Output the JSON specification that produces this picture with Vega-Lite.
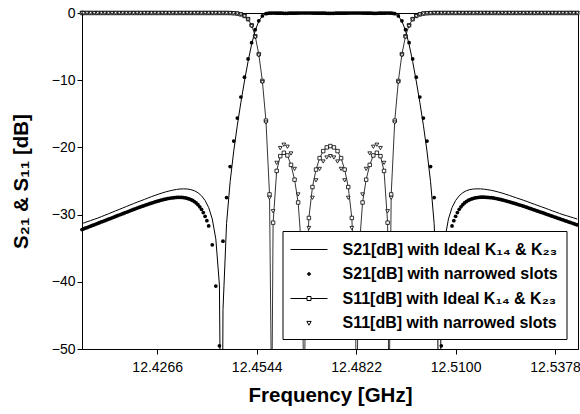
{
  "$schema": "https://vega.github.io/schema/vega-lite/v6.json",
  "width": 496,
  "height": 336,
  "autosize": {"type": "none"},
  "padding": {"left": 82, "top": 13, "right": 2, "bottom": 65},
  "background": "white",
  "config": {
    "view": {"stroke": "black", "strokeWidth": 1},
    "font": "Liberation Sans",
    "mark": {"invalid": "filter"},
    "axis": {"grid": false, "domainColor": "black", "tickColor": "black", "labelColor": "black", "titleColor": "black", "labelFont": "Liberation Sans", "labelFontSize": 14, "tickSize": 5, "titleFont": "Liberation Sans", "titleFontSize": 20.5, "titleFontWeight": "bold"}
  },
  "data": {"values": [
    {"f":12.4056,"a":-31.35,"b":-32.22,"c":0,"d":0},
    {"f":12.406,"a":-31.27,"b":-32.14,"c":0,"d":0},
    {"f":12.407,"a":-31.07,"b":-31.93,"c":0,"d":0},
    {"f":12.408,"a":-30.89,"b":-31.72,"c":0,"d":0},
    {"f":12.409,"a":-30.70,"b":-31.52,"c":0,"d":0},
    {"f":12.410,"a":-30.52,"b":-31.31,"c":0,"d":0},
    {"f":12.411,"a":-30.31,"b":-31.10,"c":0,"d":0},
    {"f":12.412,"a":-30.09,"b":-30.90,"c":0,"d":0},
    {"f":12.413,"a":-29.88,"b":-30.69,"c":0,"d":0},
    {"f":12.414,"a":-29.66,"b":-30.48,"c":0,"d":0},
    {"f":12.415,"a":-29.44,"b":-30.27,"c":0,"d":0},
    {"f":12.416,"a":-29.23,"b":-30.06,"c":0,"d":0},
    {"f":12.417,"a":-29.01,"b":-29.86,"c":0,"d":0},
    {"f":12.418,"a":-28.80,"b":-29.65,"c":0,"d":0},
    {"f":12.419,"a":-28.58,"b":-29.44,"c":0,"d":0},
    {"f":12.420,"a":-28.36,"b":-29.24,"c":0,"d":0},
    {"f":12.421,"a":-28.15,"b":-29.03,"c":0,"d":0},
    {"f":12.422,"a":-27.95,"b":-28.84,"c":0,"d":0},
    {"f":12.423,"a":-27.75,"b":-28.65,"c":0,"d":0},
    {"f":12.424,"a":-27.54,"b":-28.47,"c":0,"d":0},
    {"f":12.425,"a":-27.33,"b":-28.28,"c":0,"d":0},
    {"f":12.426,"a":-27.14,"b":-28.12,"c":0,"d":0},
    {"f":12.427,"a":-26.95,"b":-27.96,"c":0,"d":0},
    {"f":12.428,"a":-26.78,"b":-27.81,"c":0,"d":0},
    {"f":12.429,"a":-26.62,"b":-27.68,"c":0,"d":0},
    {"f":12.430,"a":-26.48,"b":-27.57,"c":0,"d":0},
    {"f":12.431,"a":-26.36,"b":-27.50,"c":0,"d":0},
    {"f":12.432,"a":-26.26,"b":-27.44,"c":0,"d":0},
    {"f":12.433,"a":-26.19,"b":-27.43,"c":0,"d":0},
    {"f":12.434,"a":-26.17,"b":-27.46,"c":0,"d":0},
    {"f":12.435,"a":-26.19,"b":-27.57,"c":0,"d":0},
    {"f":12.436,"a":-26.28,"b":-27.76,"c":0,"d":0},
    {"f":12.437,"a":-26.45,"b":-28.06,"c":0,"d":0},
    {"f":12.438,"a":-26.74,"b":-28.52,"c":0,"d":0},
    {"f":12.439,"a":-27.20,"b":-29.21,"c":0,"d":0},
    {"f":12.440,"a":-27.90,"b":-30.25,"c":0,"d":0},
    {"f":12.441,"a":-28.95,"b":-31.69,"c":0,"d":0},
    {"f":12.442,"a":-30.65,"b":-34.50,"c":0,"d":0},
    {"f":12.443,"a":-33.64,"b":-40.63,"c":0,"d":0},
    {"f":12.444,"a":-40.48,"b":-49.53,"c":0,"d":0},
    {"f":12.44464,"a":-80},
    {"f":12.445,"a":-44.14,"b":-33.95,"c":0,"d":0},
    {"f":12.446,"a":-31.30,"b":-27.47,"c":0,"d":0},
    {"f":12.447,"a":-25.10,"b":-22.85,"c":-0.01,"d":-0.02},
    {"f":12.448,"a":-20.55,"b":-19.05,"c":-0.04,"d":-0.04},
    {"f":12.449,"a":-16.72,"b":-15.64,"c":-0.09,"d":-0.1},
    {"f":12.450,"a":-13.29,"b":-12.50,"c":-0.21,"d":-0.23},
    {"f":12.451,"a":-10.13,"b":-9.56,"c":-0.44,"d":-0.48},
    {"f":12.452,"a":-7.22,"b":-6.83,"c":-0.91,"d":-0.98},
    {"f":12.453,"a":-4.66,"b":-4.42,"c":-1.82,"d":-1.95},
    {"f":12.454,"a":-2.61,"b":-2.49,"c":-3.45,"d":-3.6},
    {"f":12.455,"a":-1.22,"b":-1.17,"c":-6.12,"d":-6.3},
    {"f":12.456,"a":-0.44,"b":-0.43,"c":-10.12,"d":-10.3},
    {"f":12.457,"a":-0.11,"b":-0.11,"c":-16.02,"d":-16.3},
    {"f":12.458,"a":-0.01,"b":-0.01,"c":-27.0,"d":-27.5},
    {"f":12.45862,"c":-60},
    {"f":12.459,"a":0,"b":0,"c":-31.2,"d":-29.5},
    {"f":12.460,"a":-0.02,"b":-0.02,"c":-23.5,"d":-22.3},
    {"f":12.461,"a":-0.04,"b":-0.03,"c":-21.3,"d":-20.1},
    {"f":12.462,"a":-0.05,"b":-0.04,"c":-20.8,"d":-19.6},
    {"f":12.463,"a":-0.04,"b":-0.04,"c":-21.2,"d":-19.9},
    {"f":12.464,"a":-0.03,"b":-0.03,"c":-22.6,"d":-20.9},
    {"f":12.465,"a":-0.02,"b":-0.02,"c":-24.8,"d":-23.2},
    {"f":12.466,"a":-0.01,"b":-0.01,"c":-28.2,"d":-27.0},
    {"f":12.467,"a":0,"b":0,"c":-35.5,"d":-34.5},
    {"f":12.46771,"c":-60},
    {"f":12.468,"a":0,"b":0,"c":-43.0,"d":-42.0},
    {"f":12.469,"a":0,"b":0,"c":-30.5,"d":-32.0},
    {"f":12.470,"a":-0.01,"b":-0.01,"c":-25.9,"d":-27.5},
    {"f":12.471,"a":-0.02,"b":-0.02,"c":-23.3,"d":-24.9},
    {"f":12.472,"a":-0.03,"b":-0.03,"c":-21.6,"d":-23.2},
    {"f":12.473,"a":-0.04,"b":-0.03,"c":-20.55,"d":-22.1},
    {"f":12.474,"a":-0.04,"b":-0.04,"c":-20.0,"d":-21.5},
    {"f":12.475,"a":-0.05,"b":-0.04,"c":-19.8,"d":-21.3},
    {"f":12.476,"a":-0.04,"b":-0.04,"c":-20.0,"d":-21.5},
    {"f":12.477,"a":-0.04,"b":-0.03,"c":-20.55,"d":-22.1},
    {"f":12.478,"a":-0.03,"b":-0.03,"c":-21.6,"d":-23.2},
    {"f":12.479,"a":-0.02,"b":-0.02,"c":-23.3,"d":-24.9},
    {"f":12.480,"a":-0.01,"b":-0.01,"c":-25.9,"d":-27.5},
    {"f":12.481,"a":0,"b":0,"c":-30.5,"d":-32.0},
    {"f":12.482,"a":0,"b":0,"c":-43.0,"d":-42.0},
    {"f":12.48229,"c":-60},
    {"f":12.483,"a":0,"b":0,"c":-35.5,"d":-34.5},
    {"f":12.484,"a":-0.01,"b":-0.01,"c":-28.2,"d":-27.0},
    {"f":12.485,"a":-0.02,"b":-0.02,"c":-24.8,"d":-23.2},
    {"f":12.486,"a":-0.03,"b":-0.03,"c":-22.6,"d":-20.9},
    {"f":12.487,"a":-0.04,"b":-0.04,"c":-21.2,"d":-19.9},
    {"f":12.488,"a":-0.05,"b":-0.04,"c":-20.8,"d":-19.6},
    {"f":12.489,"a":-0.04,"b":-0.03,"c":-21.3,"d":-20.1},
    {"f":12.490,"a":-0.02,"b":-0.02,"c":-23.5,"d":-22.3},
    {"f":12.491,"a":0,"b":0,"c":-31.2,"d":-29.5},
    {"f":12.49138,"c":-60},
    {"f":12.492,"a":-0.01,"b":-0.01,"c":-27.0,"d":-27.5},
    {"f":12.493,"a":-0.11,"b":-0.11,"c":-16.02,"d":-16.3},
    {"f":12.494,"a":-0.44,"b":-0.43,"c":-10.12,"d":-10.3},
    {"f":12.495,"a":-1.22,"b":-1.17,"c":-6.12,"d":-6.3},
    {"f":12.496,"a":-2.61,"b":-2.49,"c":-3.45,"d":-3.6},
    {"f":12.497,"a":-4.66,"b":-4.42,"c":-1.82,"d":-1.95},
    {"f":12.498,"a":-7.22,"b":-6.83,"c":-0.91,"d":-0.98},
    {"f":12.499,"a":-10.13,"b":-9.56,"c":-0.44,"d":-0.48},
    {"f":12.500,"a":-13.29,"b":-12.50,"c":-0.21,"d":-0.23},
    {"f":12.501,"a":-16.72,"b":-15.64,"c":-0.09,"d":-0.1},
    {"f":12.502,"a":-20.55,"b":-19.05,"c":-0.04,"d":-0.04},
    {"f":12.503,"a":-25.10,"b":-22.85,"c":-0.01,"d":-0.02},
    {"f":12.504,"a":-31.30,"b":-27.47,"c":0,"d":0},
    {"f":12.505,"a":-44.14,"b":-33.95,"c":0,"d":0},
    {"f":12.50536,"a":-80},
    {"f":12.506,"a":-40.48,"b":-49.53,"c":0,"d":0},
    {"f":12.507,"a":-33.64,"b":-40.63,"c":0,"d":0},
    {"f":12.508,"a":-30.65,"b":-34.50,"c":0,"d":0},
    {"f":12.509,"a":-28.95,"b":-31.69,"c":0,"d":0},
    {"f":12.510,"a":-27.90,"b":-30.25,"c":0,"d":0},
    {"f":12.511,"a":-27.20,"b":-29.21,"c":0,"d":0},
    {"f":12.512,"a":-26.74,"b":-28.52,"c":0,"d":0},
    {"f":12.513,"a":-26.45,"b":-28.06,"c":0,"d":0},
    {"f":12.514,"a":-26.28,"b":-27.76,"c":0,"d":0},
    {"f":12.515,"a":-26.19,"b":-27.57,"c":0,"d":0},
    {"f":12.516,"a":-26.17,"b":-27.46,"c":0,"d":0},
    {"f":12.517,"a":-26.17,"b":-27.41,"c":0,"d":0},
    {"f":12.518,"a":-26.22,"b":-27.40,"c":0,"d":0},
    {"f":12.519,"a":-26.30,"b":-27.44,"c":0,"d":0},
    {"f":12.520,"a":-26.39,"b":-27.48,"c":0,"d":0},
    {"f":12.521,"a":-26.51,"b":-27.57,"c":0,"d":0},
    {"f":12.522,"a":-26.65,"b":-27.68,"c":0,"d":0},
    {"f":12.523,"a":-26.80,"b":-27.81,"c":0,"d":0},
    {"f":12.524,"a":-26.97,"b":-27.95,"c":0,"d":0},
    {"f":12.525,"a":-27.14,"b":-28.09,"c":0,"d":0},
    {"f":12.526,"a":-27.33,"b":-28.26,"c":0,"d":0},
    {"f":12.527,"a":-27.51,"b":-28.41,"c":0,"d":0},
    {"f":12.528,"a":-27.69,"b":-28.58,"c":0,"d":0},
    {"f":12.529,"a":-27.87,"b":-28.75,"c":0,"d":0},
    {"f":12.530,"a":-28.06,"b":-28.94,"c":0,"d":0},
    {"f":12.531,"a":-28.26,"b":-29.12,"c":0,"d":0},
    {"f":12.532,"a":-28.46,"b":-29.31,"c":0,"d":0},
    {"f":12.533,"a":-28.65,"b":-29.50,"c":0,"d":0},
    {"f":12.534,"a":-28.84,"b":-29.67,"c":0,"d":0},
    {"f":12.535,"a":-29.03,"b":-29.86,"c":0,"d":0},
    {"f":12.536,"a":-29.23,"b":-30.05,"c":0,"d":0},
    {"f":12.537,"a":-29.43,"b":-30.24,"c":0,"d":0},
    {"f":12.538,"a":-29.62,"b":-30.43,"c":0,"d":0},
    {"f":12.539,"a":-29.82,"b":-30.61,"c":0,"d":0},
    {"f":12.540,"a":-30.01,"b":-30.80,"c":0,"d":0},
    {"f":12.541,"a":-30.16,"b":-30.98,"c":0,"d":0},
    {"f":12.542,"a":-30.33,"b":-31.16,"c":0,"d":0},
    {"f":12.543,"a":-30.49,"b":-31.35,"c":0,"d":0},
    {"f":12.544,"a":-30.67,"b":-31.54,"c":0,"d":0},
    {"f":12.4065,"b":-32.03},
    {"f":12.4075,"b":-31.82},
    {"f":12.4085,"b":-31.62},
    {"f":12.4095,"b":-31.41},
    {"f":12.4105,"b":-31.21},
    {"f":12.4115,"b":-31.00},
    {"f":12.4125,"b":-30.80},
    {"f":12.4135,"b":-30.59},
    {"f":12.4145,"b":-30.38},
    {"f":12.4155,"b":-30.17},
    {"f":12.4165,"b":-29.96},
    {"f":12.4175,"b":-29.76},
    {"f":12.4185,"b":-29.55},
    {"f":12.4195,"b":-29.34},
    {"f":12.4205,"b":-29.14},
    {"f":12.4215,"b":-28.93},
    {"f":12.4225,"b":-28.74},
    {"f":12.4235,"b":-28.56},
    {"f":12.4245,"b":-28.37},
    {"f":12.4255,"b":-28.20},
    {"f":12.4265,"b":-28.04},
    {"f":12.4275,"b":-27.88},
    {"f":12.4285,"b":-27.74},
    {"f":12.4295,"b":-27.62},
    {"f":12.4305,"b":-27.53},
    {"f":12.4315,"b":-27.47},
    {"f":12.4325,"b":-27.43},
    {"f":12.4335,"b":-27.44},
    {"f":12.4345,"b":-27.51},
    {"f":12.4355,"b":-27.66},
    {"f":12.4365,"b":-27.90},
    {"f":12.4375,"b":-28.27},
    {"f":12.4385,"b":-28.84},
    {"f":12.4395,"b":-29.70},
    {"f":12.4405,"b":-30.90},
    {"f":12.4575,"b":-0.05},
    {"f":12.4585,"b":-0.01},
    {"f":12.4595,"b":-0.01},
    {"f":12.4605,"b":-0.02},
    {"f":12.4615,"b":-0.03},
    {"f":12.4625,"b":-0.04},
    {"f":12.4635,"b":-0.03},
    {"f":12.4645,"b":-0.02},
    {"f":12.4655,"b":-0.01},
    {"f":12.4665,"b":0},
    {"f":12.4675,"b":0},
    {"f":12.4685,"b":0},
    {"f":12.4695,"b":0},
    {"f":12.4705,"b":-0.01},
    {"f":12.4715,"b":-0.02},
    {"f":12.4725,"b":-0.03},
    {"f":12.4735,"b":-0.03},
    {"f":12.4745,"b":-0.04},
    {"f":12.4755,"b":-0.04},
    {"f":12.4765,"b":-0.03},
    {"f":12.4775,"b":-0.03},
    {"f":12.4785,"b":-0.02},
    {"f":12.4795,"b":-0.01},
    {"f":12.4805,"b":0},
    {"f":12.4815,"b":0},
    {"f":12.4825,"b":0},
    {"f":12.4835,"b":0},
    {"f":12.4845,"b":-0.01},
    {"f":12.4855,"b":-0.02},
    {"f":12.4865,"b":-0.03},
    {"f":12.4875,"b":-0.04},
    {"f":12.4885,"b":-0.03},
    {"f":12.4895,"b":-0.02},
    {"f":12.4905,"b":-0.01},
    {"f":12.4915,"b":-0.01},
    {"f":12.4925,"b":-0.05},
    {"f":12.5095,"b":-30.90},
    {"f":12.5105,"b":-29.70},
    {"f":12.5115,"b":-28.84},
    {"f":12.5125,"b":-28.27},
    {"f":12.5135,"b":-27.90},
    {"f":12.5145,"b":-27.66},
    {"f":12.5155,"b":-27.51},
    {"f":12.5165,"b":-27.43},
    {"f":12.5175,"b":-27.40},
    {"f":12.5185,"b":-27.42},
    {"f":12.5195,"b":-27.46},
    {"f":12.5205,"b":-27.52},
    {"f":12.5215,"b":-27.62},
    {"f":12.5225,"b":-27.74},
    {"f":12.5235,"b":-27.88},
    {"f":12.5245,"b":-28.02},
    {"f":12.5255,"b":-28.17},
    {"f":12.5265,"b":-28.33},
    {"f":12.5275,"b":-28.50},
    {"f":12.5285,"b":-28.66},
    {"f":12.5295,"b":-28.84},
    {"f":12.5305,"b":-29.03},
    {"f":12.5315,"b":-29.21},
    {"f":12.5325,"b":-29.40},
    {"f":12.5335,"b":-29.58},
    {"f":12.5345,"b":-29.76},
    {"f":12.5355,"b":-29.95},
    {"f":12.5365,"b":-30.14},
    {"f":12.5375,"b":-30.33},
    {"f":12.5385,"b":-30.52},
    {"f":12.5395,"b":-30.70},
    {"f":12.5405,"b":-30.89},
    {"f":12.5415,"b":-31.07},
    {"f":12.5425,"b":-31.25},
    {"f":12.5435,"b":-31.44}
  ]},
  "layer": [
    {
      "mark": {"type": "line", "color": "black", "strokeWidth": 1, "clip": true},
      "encoding": {
        "x": {"field": "f", "type": "quantitative", "scale": {"domain": [12.4056, 12.5442], "nice": false, "zero": false},
          "axis": {"values": [12.4266, 12.4544, 12.4822, 12.51, 12.5378], "format": ".4f", "title": "Frequency [GHz]", "labelPadding": 6, "titlePadding": 11}},
        "y": {"field": "a", "type": "quantitative", "scale": {"domain": [-50, 0], "nice": false, "zero": false},
          "axis": {"values": [-50, -40, -30, -20, -10, 0], "title": "S₂₁ & S₁₁ [dB]", "labelPadding": 2, "titlePadding": 20}}
      }
    },
    {
      "mark": {"type": "point", "shape": "circle", "filled": true, "color": "black", "size": 14, "opacity": 1},
      "encoding": {"x": {"field": "f", "type": "quantitative"}, "y": {"field": "b", "type": "quantitative"}}
    },
    {
      "mark": {"type": "line", "color": "black", "strokeWidth": 0.8, "clip": true},
      "encoding": {"x": {"field": "f", "type": "quantitative"}, "y": {"field": "c", "type": "quantitative"}}
    },
    {
      "transform": [{"filter": "datum.c >= -50"}],
      "mark": {"type": "point", "shape": "square", "filled": true, "fill": "white", "stroke": "black", "strokeWidth": 0.8, "size": 12, "opacity": 1},
      "encoding": {"x": {"field": "f", "type": "quantitative"}, "y": {"field": "c", "type": "quantitative"}}
    },
    {
      "mark": {"type": "point", "shape": "triangle-down", "filled": true, "fill": "white", "stroke": "black", "strokeWidth": 0.8, "size": 14, "opacity": 1},
      "encoding": {"x": {"field": "f", "type": "quantitative"}, "y": {"field": "d", "type": "quantitative"}}
    },
    {
      "transform": [{"filter": "false"}],
      "mark": {"type": "point", "filled": false, "opacity": 1},
      "encoding": {
        "x": {"field": "f", "type": "quantitative"},
        "y": {"field": "a", "type": "quantitative"},
        "shape": {"field": "series", "type": "nominal",
          "scale": {"domain": ["a", "b", "c", "d"], "range": ["M-1.85,0H1.85", "M-0.15,-0.06L-0.06,-0.15L0.06,-0.15L0.15,-0.06L0.15,0.06L0.06,0.15L-0.06,0.15L-0.15,0.06ZM-0.1,0H0.1M0,-0.1V0.1M-0.07,-0.07L0.07,0.07M-0.07,0.07L0.07,-0.07", "M-1.85,0H-0.2M0.2,0H1.85M-0.2,-0.2H0.2V0.2H-0.2Z", "M-0.22,-0.16H0.22L0,0.22Z"]},
          "legend": {"orient": "none", "legendX": 200.5, "legendY": 218, "title": null, "fillColor": "white", "strokeColor": "black", "padding": 8, "symbolSize": 400, "symbolOffset": 8, "labelOffset": 23, "rowPadding": 5.5, "symbolStrokeColor": "black", "symbolFillColor": "white", "symbolStrokeWidth": 1, "symbolOpacity": 1, "labelFont": "Liberation Sans", "labelFontSize": 16, "labelFontWeight": "bold", "labelColor": "black", "labelLimit": 400,
            "labelExpr": "datum.label == 'a' ? 'S21[dB] with Ideal K₁₄ & K₂₃' : datum.label == 'b' ? 'S21[dB] with narrowed slots' : datum.label == 'c' ? 'S11[dB] with Ideal K₁₄ & K₂₃' : 'S11[dB] with narrowed slots'"}
        }
      }
    }
  ]
}
